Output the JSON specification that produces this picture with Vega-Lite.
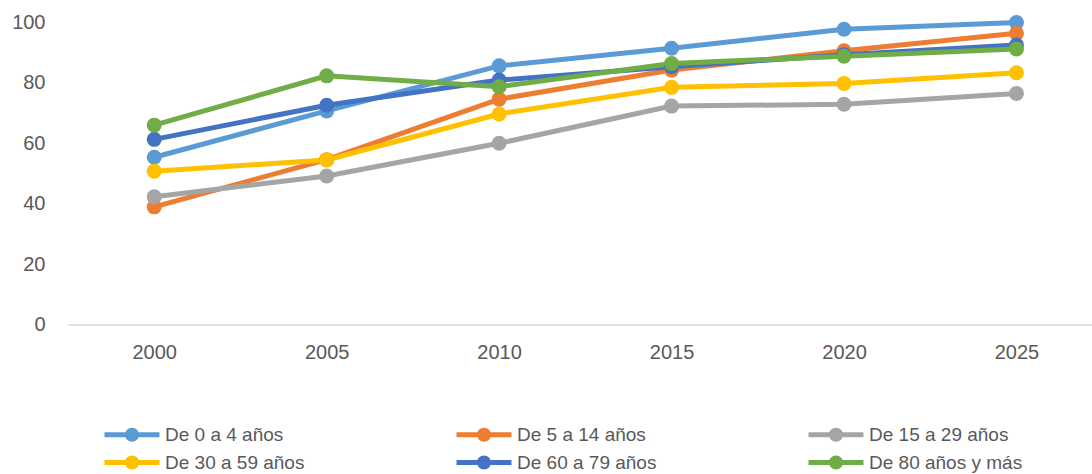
{
  "$schema": "https://vega.github.io/schema/vega-lite/v6.json",
  "width": 1024,
  "height": 302.5,
  "autosize": {"type": "none"},
  "padding": {"left": 68, "top": 22, "right": 0, "bottom": 149.5},
  "background": "white",
  "config": {"view": {"stroke": null}, "font": "Liberation Sans"},
  "data": {"values": [
    {"anio": 2000, "grupo": "De 0 a 4 años", "valor": 55.3},
    {"anio": 2005, "grupo": "De 0 a 4 años", "valor": 70.6},
    {"anio": 2010, "grupo": "De 0 a 4 años", "valor": 85.5},
    {"anio": 2015, "grupo": "De 0 a 4 años", "valor": 91.3},
    {"anio": 2020, "grupo": "De 0 a 4 años", "valor": 97.6},
    {"anio": 2025, "grupo": "De 0 a 4 años", "valor": 99.8},
    {"anio": 2000, "grupo": "De 5 a 14 años", "valor": 38.9},
    {"anio": 2005, "grupo": "De 5 a 14 años", "valor": 54.5},
    {"anio": 2010, "grupo": "De 5 a 14 años", "valor": 74.5},
    {"anio": 2015, "grupo": "De 5 a 14 años", "valor": 84.1},
    {"anio": 2020, "grupo": "De 5 a 14 años", "valor": 90.5},
    {"anio": 2025, "grupo": "De 5 a 14 años", "valor": 96.3},
    {"anio": 2000, "grupo": "De 15 a 29 años", "valor": 42.2},
    {"anio": 2005, "grupo": "De 15 a 29 años", "valor": 49.1},
    {"anio": 2010, "grupo": "De 15 a 29 años", "valor": 59.9},
    {"anio": 2015, "grupo": "De 15 a 29 años", "valor": 72.2},
    {"anio": 2020, "grupo": "De 15 a 29 años", "valor": 72.8},
    {"anio": 2025, "grupo": "De 15 a 29 años", "valor": 76.4},
    {"anio": 2000, "grupo": "De 30 a 59 años", "valor": 50.7},
    {"anio": 2005, "grupo": "De 30 a 59 años", "valor": 54.4},
    {"anio": 2010, "grupo": "De 30 a 59 años", "valor": 69.6},
    {"anio": 2015, "grupo": "De 30 a 59 años", "valor": 78.4},
    {"anio": 2020, "grupo": "De 30 a 59 años", "valor": 79.7},
    {"anio": 2025, "grupo": "De 30 a 59 años", "valor": 83.2},
    {"anio": 2000, "grupo": "De 60 a 79 años", "valor": 61.2},
    {"anio": 2005, "grupo": "De 60 a 79 años", "valor": 72.5},
    {"anio": 2010, "grupo": "De 60 a 79 años", "valor": 80.8},
    {"anio": 2015, "grupo": "De 60 a 79 años", "valor": 85.2},
    {"anio": 2020, "grupo": "De 60 a 79 años", "valor": 89.2},
    {"anio": 2025, "grupo": "De 60 a 79 años", "valor": 92.4},
    {"anio": 2000, "grupo": "De 80 años y más", "valor": 65.9},
    {"anio": 2005, "grupo": "De 80 años y más", "valor": 82.2},
    {"anio": 2010, "grupo": "De 80 años y más", "valor": 78.6},
    {"anio": 2015, "grupo": "De 80 años y más", "valor": 86.3},
    {"anio": 2020, "grupo": "De 80 años y más", "valor": 88.7},
    {"anio": 2025, "grupo": "De 80 años y más", "valor": 91.1}
  ]},
  "encoding": {
    "x": {
      "field": "anio", "type": "quantitative",
      "scale": {"domain": [1997.5, 2027.19], "nice": false, "zero": false},
      "axis": {"values": [2000, 2005, 2010, 2015, 2020, 2025], "format": "d", "title": null, "grid": false, "ticks": false,
        "domainColor": "#d9d9d9", "domainWidth": 1.5, "labelColor": "#595959", "labelFontSize": 20, "labelPadding": 18}
    },
    "y": {
      "field": "valor", "type": "quantitative",
      "scale": {"domain": [0, 100], "nice": false},
      "axis": {"values": [0, 20, 40, 60, 80, 100], "title": null, "grid": false, "ticks": false, "domain": false,
        "labelColor": "#595959", "labelFontSize": 20, "labelPadding": 23}
    },
    "color": {
      "field": "grupo", "type": "nominal",
      "scale": {
        "domain": ["De 0 a 4 años", "De 5 a 14 años", "De 15 a 29 años", "De 30 a 59 años", "De 60 a 79 años", "De 80 años y más"],
        "range": ["#5B9BD5", "#ED7D31", "#A5A5A5", "#FFC000", "#4472C4", "#70AD47"]
      },
      "legend": {
        "title": null, "orient": "none", "legendX": 34, "legendY": 403, "columns": 3, "direction": "horizontal",
        "columnPadding": 149, "rowPadding": 8, "labelOffset": 44, "labelLimit": 300,
        "labelFontSize": 19, "labelColor": "#595959",
        "symbolType": "M-1,-0.357L6.857,-0.357L6.857,0.357L-1,0.357Z M3.93,0 A1,1 0 1,1 1.93,0 A1,1 0 1,1 3.93,0Z",
        "symbolSize": 196, "symbolStrokeWidth": 0,
        "encode": {"symbols": {"update": {"fill": {"scale": "color", "field": "value"}, "strokeWidth": {"value": 0}, "opacity": {"value": 1}}}}
      }
    }
  },
  "layer": [
    {"mark": {"type": "line", "strokeWidth": 5}},
    {"mark": {"type": "point", "filled": true, "size": 225, "opacity": 1}}
  ]
}
